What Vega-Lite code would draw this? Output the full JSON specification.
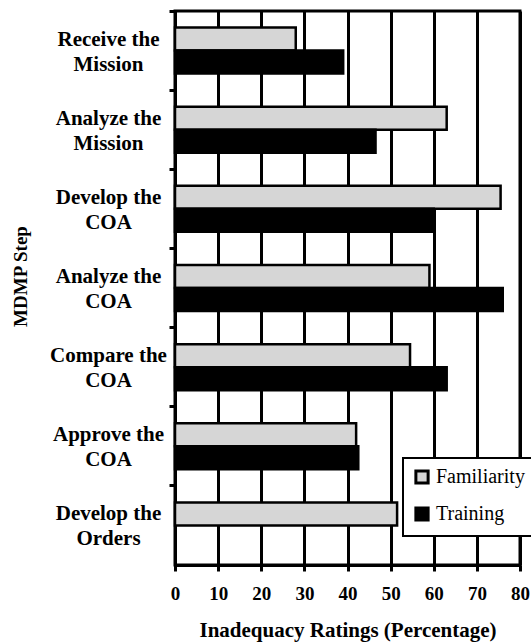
{
  "$schema": "https://vega.github.io/schema/vega-lite/v6.json",
  "autosize": {"type": "none"},
  "padding": {"left": 175, "top": 11, "right": 11, "bottom": 79},
  "width": 345,
  "height": 554,
  "background": "white",
  "config": {
    "view": {"stroke": "black", "strokeWidth": 3},
    "font": "Times New Roman, Liberation Serif, serif"
  },
  "data": {
    "values": [
      {"step": "Receive the Mission", "series": "Familiarity", "value": 28},
      {"step": "Receive the Mission", "series": "Training", "value": 39},
      {"step": "Analyze the Mission", "series": "Familiarity", "value": 63},
      {"step": "Analyze the Mission", "series": "Training", "value": 46.5},
      {"step": "Develop the COA", "series": "Familiarity", "value": 75.5},
      {"step": "Develop the COA", "series": "Training", "value": 60},
      {"step": "Analyze the COA", "series": "Familiarity", "value": 59},
      {"step": "Analyze the COA", "series": "Training", "value": 76},
      {"step": "Compare the COA", "series": "Familiarity", "value": 54.5},
      {"step": "Compare the COA", "series": "Training", "value": 63},
      {"step": "Approve the COA", "series": "Familiarity", "value": 42},
      {"step": "Approve the COA", "series": "Training", "value": 42.5},
      {"step": "Develop the Orders", "series": "Familiarity", "value": 51.5}
    ]
  },
  "mark": {"type": "bar", "stroke": "black", "strokeWidth": 2.5},
  "encoding": {
    "y": {
      "field": "step",
      "type": "nominal",
      "sort": ["Receive the Mission", "Analyze the Mission", "Develop the COA", "Analyze the COA", "Compare the COA", "Approve the COA", "Develop the Orders"],
      "scale": {"paddingInner": 0, "paddingOuter": 0},
      "axis": {
        "title": "MDMP Step",
        "titleFont": "Times New Roman, Liberation Serif, serif",
        "titleFontSize": 19,
        "titleFontWeight": "bold",
        "titleColor": "black",
        "titleAngle": -90,
        "titleAlign": "center",
        "titleBaseline": "middle",
        "titleX": -154.5,
        "titleY": 265,
        "labelExpr": "[slice(datum.label, 0, indexof(datum.label, ' the ') + 4), slice(datum.label, indexof(datum.label, ' the ') + 5)]",
        "labelAlign": "center",
        "labelBaseline": "middle",
        "labelPadding": 61,
        "labelOffset": -11,
        "labelFont": "Times New Roman, Liberation Serif, serif",
        "labelFontSize": 21,
        "labelFontWeight": "bold",
        "labelColor": "black",
        "labelLineHeight": 25,
        "bandPosition": 0,
        "tickSize": 6,
        "tickWidth": 3,
        "tickColor": "black",
        "domainColor": "black",
        "domainWidth": 3,
        "grid": false
      }
    },
    "yOffset": {
      "field": "series",
      "type": "nominal",
      "sort": ["Familiarity", "Training"],
      "scale": {"paddingInner": 0, "paddingOuter": 0.72}
    },
    "x": {
      "field": "value",
      "type": "quantitative",
      "scale": {"domain": [0, 80], "nice": false},
      "axis": {
        "title": "Inadequacy Ratings (Percentage)",
        "titleFont": "Times New Roman, Liberation Serif, serif",
        "titleFontSize": 21,
        "titleFontWeight": "bold",
        "titleColor": "black",
        "titlePadding": 16,
        "values": [0, 10, 20, 30, 40, 50, 60, 70, 80],
        "labelFont": "Times New Roman, Liberation Serif, serif",
        "labelFontSize": 19,
        "labelFontWeight": "bold",
        "labelColor": "black",
        "labelPadding": 13,
        "labelFlush": false,
        "tickSize": 6,
        "tickWidth": 3,
        "tickColor": "black",
        "domainColor": "black",
        "domainWidth": 3,
        "grid": true,
        "gridColor": "black",
        "gridWidth": 3,
        "gridOpacity": 1
      }
    },
    "fill": {
      "field": "series",
      "type": "nominal",
      "sort": ["Familiarity", "Training"],
      "scale": {"domain": ["Familiarity", "Training"], "range": ["#d6d6d6", "black"]},
      "legend": {
        "title": null,
        "orient": "none",
        "legendX": 228,
        "legendY": 447,
        "fillColor": "white",
        "strokeColor": "black",
        "padding": 9,
        "symbolType": "square",
        "symbolSize": 150,
        "symbolStrokeColor": "black",
        "symbolStrokeWidth": 3,
        "labelFont": "Times New Roman, Liberation Serif, serif",
        "labelFontSize": 20,
        "labelColor": "black",
        "labelOffset": 4,
        "rowPadding": 11,
        "encode": {"legend": {"update": {"strokeWidth": {"value": 2}}}}
      }
    }
  }
}
